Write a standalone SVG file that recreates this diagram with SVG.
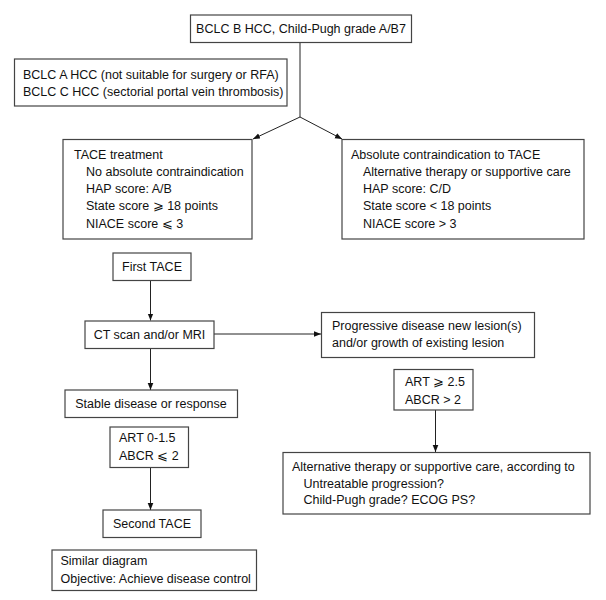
<svg xmlns="http://www.w3.org/2000/svg" width="606" height="600" viewBox="0 0 606 600">
<style>
rect{fill:#fff;stroke:#444;stroke-width:1.2}
text{font-family:"Liberation Sans",Arial,sans-serif;font-size:12.5px;fill:#111}
.c{stroke:#222;stroke-width:1;fill:none}
</style>
<defs>
<marker id="ah" viewBox="0 0 10 10" refX="10" refY="5" markerWidth="7" markerHeight="7" orient="auto" markerUnits="userSpaceOnUse">
<path d="M0,1 L10,5 L0,9 Z" fill="#111"/>
</marker>
</defs>
<rect width="606" height="600" style="fill:#fff;stroke:none"/>
<g id="connectors">
<path class="c" d="M300,42.5 V117"/>
<path class="c" d="M300,117 L253,139" marker-end="url(#ah)"/>
<path class="c" d="M300,117 L342,139" marker-end="url(#ah)"/>
<path class="c" d="M150.5,280.5 V320.5" marker-end="url(#ah)"/>
<path class="c" d="M214,334 H321" marker-end="url(#ah)"/>
<path class="c" d="M150.5,348.5 V390" marker-end="url(#ah)"/>
<path class="c" d="M150.5,467.5 V510" marker-end="url(#ah)"/>
<path class="c" d="M435.5,410 V452" marker-end="url(#ah)"/>
</g>
<g id="n-top"><rect x="190.5" y="15" width="221" height="27.5"/><text x="301" y="33" text-anchor="middle">BCLC B HCC, Child-Pugh grade A/B7</text></g>
<g id="n-ac"><rect x="14.5" y="59" width="272.5" height="47"/><text x="23" y="79">BCLC A HCC (not suitable for surgery or RFA)</text><text x="23" y="96">BCLC C HCC (sectorial portal vein thrombosis)</text></g>
<g id="n-tace"><rect x="63" y="139.5" width="189" height="99.5"/>
<text x="74" y="158.5">TACE treatment</text>
<text x="86" y="176">No absolute contraindication</text>
<text x="86" y="193">HAP score: A/B</text>
<text x="86" y="210">State score ⩾ 18 points</text>
<text x="86" y="228">NIACE score ⩽ 3</text></g>
<g id="n-contra"><rect x="342" y="139.5" width="242" height="99.5"/>
<text x="351" y="158.5">Absolute contraindication to TACE</text>
<text x="363" y="176">Alternative therapy or supportive care</text>
<text x="363" y="193">HAP score: C/D</text>
<text x="363" y="210">State score &lt; 18 points</text>
<text x="363" y="228">NIACE score &gt; 3</text></g>
<g id="n-first"><rect x="113" y="253" width="78" height="27.5"/><text x="152" y="270.5" text-anchor="middle">First TACE</text></g>
<g id="n-ct"><rect x="85" y="321" width="129" height="27.5"/><text x="149.5" y="338.5" text-anchor="middle">CT scan and/or MRI</text></g>
<g id="n-prog"><rect x="321.5" y="312.5" width="213" height="45"/><text x="332" y="330">Progressive disease new lesion(s)</text><text x="332" y="347">and/or growth of existing lesion</text></g>
<g id="n-stable"><rect x="65" y="390" width="172.5" height="27.5"/><text x="151" y="407.5" text-anchor="middle">Stable disease or response</text></g>
<g id="n-art1"><rect x="110" y="427" width="78.5" height="40.5"/><text x="119" y="442">ART 0-1.5</text><text x="119" y="460">ABCR ⩽ 2</text></g>
<g id="n-second"><rect x="103" y="510" width="98" height="27.5"/><text x="152" y="528" text-anchor="middle">Second TACE</text></g>
<g id="n-similar"><rect x="52" y="550" width="204.5" height="40.5"/><text x="60.5" y="564.5">Similar diagram</text><text x="60.5" y="582.5">Objective: Achieve disease control</text></g>
<g id="n-art2"><rect x="394" y="369.5" width="79" height="40.5"/><text x="405" y="386">ART ⩾ 2.5</text><text x="405" y="403.5">ABCR &gt; 2</text></g>
<g id="n-alt"><rect x="283" y="452.5" width="307" height="61.5"/>
<text x="292" y="471">Alternative therapy or supportive care, according to</text>
<text x="303.5" y="487.5">Untreatable progression?</text>
<text x="303.5" y="504">Child-Pugh grade? ECOG PS?</text></g>
</svg>
